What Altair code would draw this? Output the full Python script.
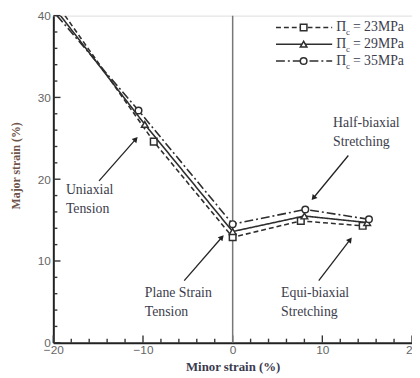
import altair as alt
import pandas as pd

# ---- data ----
series_names = ["23MPa", "29MPa", "35MPa"]
x_23 = [-18.7, -8.8, 0.0, 7.6, 14.5]
y_23 = [40.0, 24.6, 12.9, 14.9, 14.3]
x_29 = [-19.2, -9.8, 0.0, 8.0, 15.0]
y_29 = [40.0, 26.7, 13.6, 15.5, 14.7]
x_35 = [-19.6, -10.5, 0.0, 8.1, 15.2]
y_35 = [40.0, 28.4, 14.5, 16.3, 15.1]

x_ticks = [-20, -10, 0, 10, 20]
y_ticks = [0, 10, 20, 30, 40]
x_minor = list(range(-20, 21, 2))
y_minor = list(range(0, 41, 2))

ann_labels = ["Uniaxial\nTension", "Plane Strain\nTension", "Equi-biaxial\nStretching", "Half-biaxial\nStretching"]
ann_text_x = [-18.6, -9.8, 5.4, 11.2]
ann_text_y = [19.5, 6.9, 6.9, 27.7]
arrow_x0 = [-14.9, -5.4, 9.6, 12.9]
arrow_y0 = [19.8, 7.6, 7.6, 22.9]
arrow_x1 = [-10.8, -1.2, 13.1, 9.0]
arrow_y1 = [24.9, 12.9, 12.6, 17.7]
arrow_angle = [42, 42, 37, 220]

FONT_SERIF = "Liberation Serif"
INK = "#2e2e2e"
TXT = "#3c3c4c"

rows = []
for name, xs_, ys_ in [("23MPa", x_23, y_23), ("29MPa", x_29, y_29), ("35MPa", x_35, y_35)]:
    for i, (a, b) in enumerate(zip(xs_, ys_)):
        rows.append({"series": name, "x": a, "y": b, "marker": i > 0})
df = pd.DataFrame(rows)

xs = alt.Scale(domain=[-20, 20], nice=False)
ys = alt.Scale(domain=[0, 40], nice=False)

dash = {"23MPa": [5, 3], "29MPa": [1, 0], "35MPa": [9, 3, 2, 3]}
shape = {"23MPa": "square", "29MPa": "triangle-up", "35MPa": "circle"}

layers = []

base = alt.Chart(df).mark_point(opacity=0).encode(
    x=alt.X("x:Q", scale=xs,
            axis=alt.Axis(values=x_ticks, title="Minor strain (%)", ticks=False, grid=False,
                          domain=True, domainColor="#222", domainWidth=2,
                          labelFont="Liberation Sans", labelColor="#666", labelFontSize=12,
                          labelPadding=2, labelFlush=False,
                          titleFont=FONT_SERIF, titleFontSize=13, titleFontWeight="bold",
                          titleColor="#3a3a4e", titlePadding=5)),
    y=alt.Y("y:Q", scale=ys,
            axis=alt.Axis(values=y_ticks, title="Major strain (%)", ticks=False, grid=False,
                          domain=True, domainColor="#222", domainWidth=2,
                          labelFont="Liberation Sans", labelColor="#666", labelFontSize=12,
                          labelPadding=3, labelFlush=False,
                          titleFont=FONT_SERIF, titleFontSize=12, titleFontWeight="bold",
                          titleColor="#6e5448", titleX=-38, titleY=152, titleBaseline="middle")),
)
layers.append(base)

# inward ticks
xt = pd.DataFrame({"x": x_minor})
xt["major"] = xt["x"] % 10 == 0
xt["y0"] = 0.0
xt["len"] = xt["major"].map({True: 0.9, False: 0.5})
layers.append(alt.Chart(xt).mark_rule(color="#333", strokeWidth=1.4).encode(
    x=alt.X("x:Q", scale=xs), y=alt.Y("y0:Q", scale=ys), y2="len:Q"))
yt = pd.DataFrame({"y": y_minor})
yt["major"] = yt["y"] % 10 == 0
yt["x0"] = -20.0
yt["len"] = yt["major"].map({True: -19.2, False: -19.55})
layers.append(alt.Chart(yt).mark_rule(color="#333", strokeWidth=1.4).encode(
    y=alt.Y("y:Q", scale=ys), x=alt.X("x0:Q", scale=xs), x2="len:Q"))

# vertical line at x=0
layers.append(alt.Chart(pd.DataFrame({"x": [0.0]})).mark_rule(color="#777", strokeWidth=1.5).encode(
    x=alt.X("x:Q", scale=xs)))

# series lines + markers
for name in series_names:
    d = df[df.series == name]
    layers.append(alt.Chart(d).mark_line(color=INK, strokeWidth=1.6, strokeDash=dash[name], clip=True).encode(
        x=alt.X("x:Q", scale=xs), y=alt.Y("y:Q", scale=ys)))
    layers.append(alt.Chart(d[d.marker]).mark_point(shape=shape[name], filled=True, fill="white",
                                                    stroke=INK, strokeWidth=1.5, size=45, opacity=1).encode(
        x=alt.X("x:Q", scale=xs), y=alt.Y("y:Q", scale=ys)))

# annotations
ann = pd.DataFrame({"label": [s.split("\n") for s in ann_labels], "tx": ann_text_x, "ty": ann_text_y,
                    "x0": arrow_x0, "y0": arrow_y0, "x1": arrow_x1, "y1": arrow_y1, "ang": arrow_angle})
layers.append(alt.Chart(ann).mark_text(font=FONT_SERIF, fontSize=14, color=TXT, align="left",
                                       baseline="top", lineHeight=19).encode(
    x=alt.X("tx:Q", scale=xs), y=alt.Y("ty:Q", scale=ys), text="label"))
layers.append(alt.Chart(ann).mark_rule(color="#222", strokeWidth=1.3).encode(
    x=alt.X("x0:Q", scale=xs), y=alt.Y("y0:Q", scale=ys), x2="x1:Q", y2="y1:Q"))
layers.append(alt.Chart(ann).mark_point(shape="triangle-up", filled=True, color="#222", size=40, opacity=1).encode(
    x=alt.X("x1:Q", scale=xs), y=alt.Y("y1:Q", scale=ys), angle=alt.Angle("ang:Q", scale=None)))

# legend (inside, top-right)
leg_y = [12, 29, 46]
for name, yy in zip(series_names, leg_y):
    one = pd.DataFrame({"s": [name]})
    layers.append(alt.Chart(one).mark_rule(color=INK, strokeWidth=1.6, strokeDash=dash[name]).encode(
        x=alt.value(226), x2=alt.value(283), y=alt.value(yy)))
    layers.append(alt.Chart(one).mark_point(shape=shape[name], filled=True, fill="white",
                                            stroke=INK, strokeWidth=1.5, size=45, opacity=1).encode(
        x=alt.value(254), y=alt.value(yy)))
    layers.append(alt.Chart(one).mark_text(font=FONT_SERIF, fontSize=14, color=TXT,
                                           align="left", baseline="middle", text="Π").encode(
        x=alt.value(287), y=alt.value(yy)))
    layers.append(alt.Chart(one).mark_text(font=FONT_SERIF, fontSize=9, color=TXT,
                                           align="left", baseline="middle", text="c").encode(
        x=alt.value(297), y=alt.value(yy + 5)))
    layers.append(alt.Chart(one).mark_text(font=FONT_SERIF, fontSize=14, color=TXT,
                                           align="left", baseline="middle", text="= " + name).encode(
        x=alt.value(304), y=alt.value(yy)))

chart = alt.layer(*layers).properties(
    width=364, height=332,
    autosize=alt.AutoSizeParams(type="none"),
    padding={"left": 46, "top": 5, "right": 0, "bottom": 33},
).configure_view(stroke="#222", strokeWidth=2).configure(background="white")

chart.save("out.html", embed_options={"renderer": "svg", "actions": False})
